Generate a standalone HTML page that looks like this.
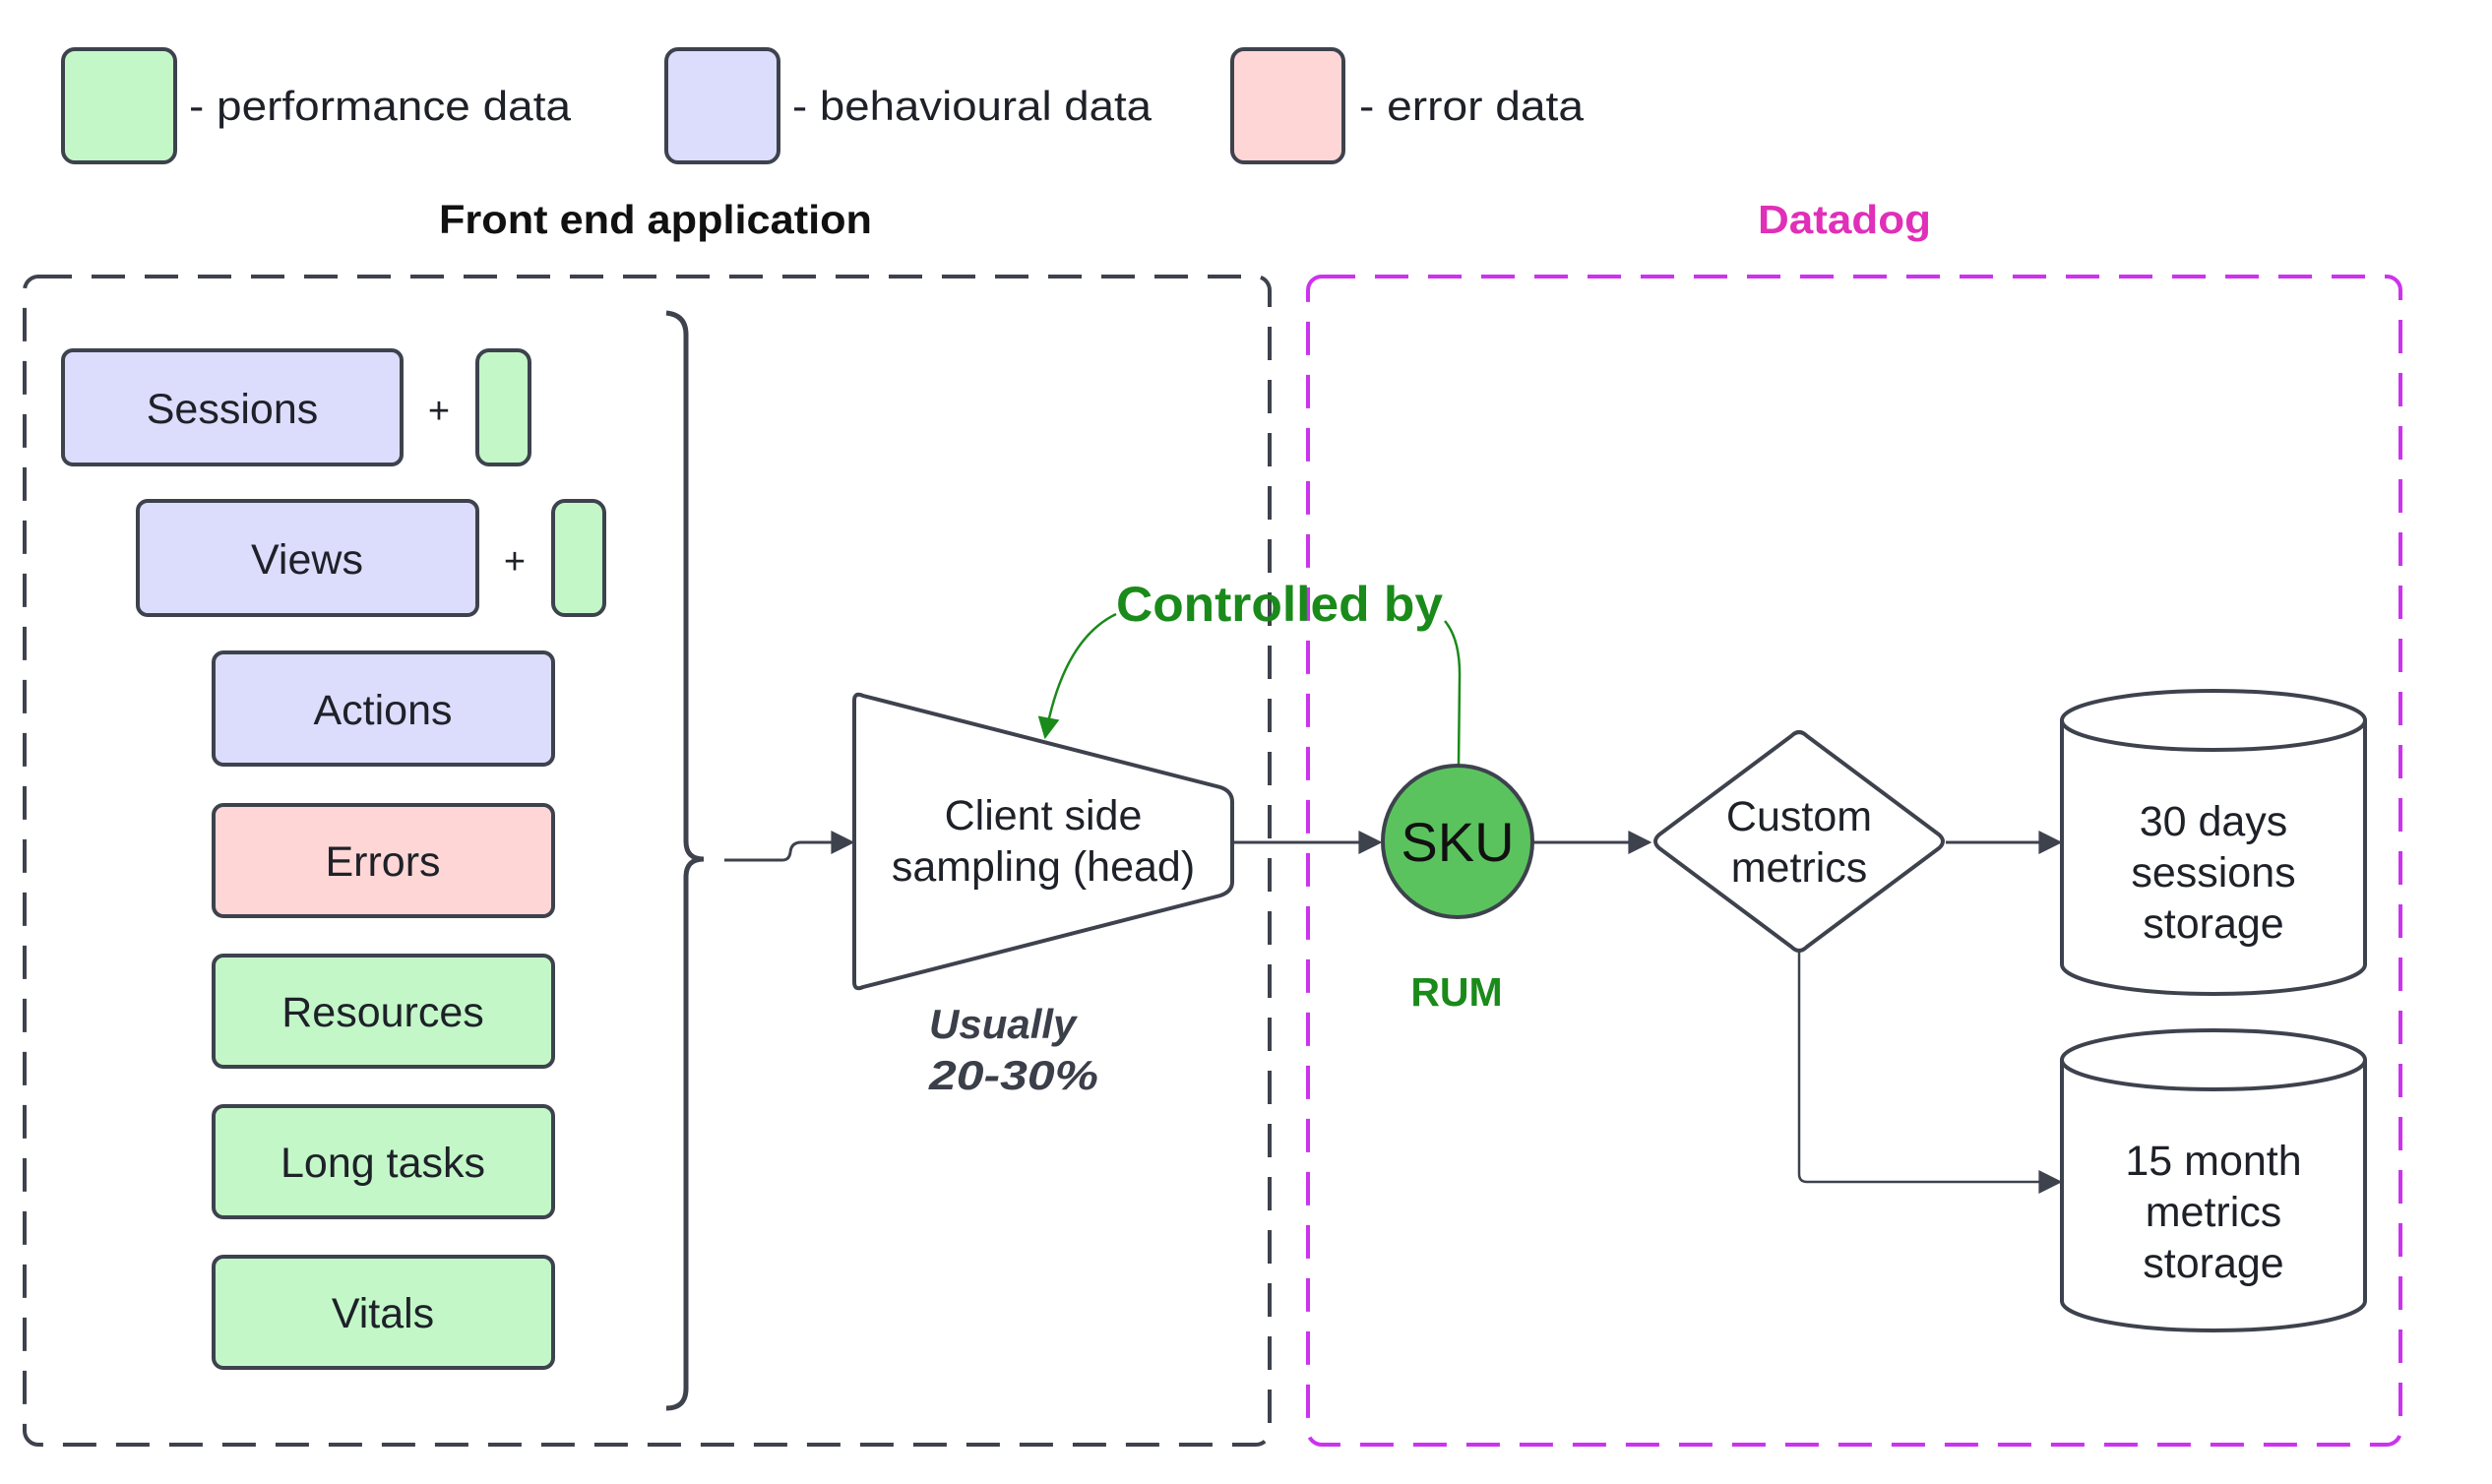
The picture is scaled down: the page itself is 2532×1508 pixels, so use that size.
<!DOCTYPE html>
<html><head><meta charset="utf-8"><style>
html,body{margin:0;padding:0;background:#fff}
svg{display:block}
text{font-family:"Liberation Sans",sans-serif}
</style></head><body>
<svg width="2532" height="1508" viewBox="0 0 2532 1508" xmlns="http://www.w3.org/2000/svg">
<defs>
<marker id="ag" viewBox="0 0 10 10" refX="9" refY="5" markerWidth="24" markerHeight="22" orient="auto" markerUnits="userSpaceOnUse"><path d="M0,0 L10,5 L0,10 z" fill="#1a8a1a"/></marker>
<marker id="ad" viewBox="0 0 10 10" refX="9" refY="5" markerWidth="30" markerHeight="24" orient="auto" markerUnits="userSpaceOnUse"><path d="M0,0 L10,5 L0,10 z" fill="#3d424d"/></marker>
</defs>
<g stroke="#3d424d" stroke-width="4">
<rect x="64" y="50" width="114" height="115" rx="12" fill="#c3f7c8"/>
<rect x="677" y="50" width="114" height="115" rx="12" fill="#dcdcfc"/>
<rect x="1252" y="50" width="113" height="115" rx="12" fill="#ffd6d6"/>
</g>
<g font-size="42" fill="#1e2128">
<text x="192" y="122" textLength="388" lengthAdjust="spacingAndGlyphs">- performance data</text>
<text x="805" y="122" textLength="365" lengthAdjust="spacingAndGlyphs">- behavioural data</text>
<text x="1381" y="122" textLength="228" lengthAdjust="spacingAndGlyphs">- error data</text>
</g>
<text x="666" y="237" font-size="41" font-weight="bold" text-anchor="middle" fill="#111" textLength="440" lengthAdjust="spacingAndGlyphs">Front end application</text>
<text x="1874" y="237" font-size="41" font-weight="bold" text-anchor="middle" fill="#e02fb8" textLength="176" lengthAdjust="spacingAndGlyphs">Datadog</text>
<rect x="25" y="281" width="1265" height="1187" rx="14" fill="none" stroke="#3d424d" stroke-width="4" stroke-dasharray="34,20"/>
<rect x="1329" y="281" width="1110" height="1187" rx="14" fill="none" stroke="#cc33ee" stroke-width="4" stroke-dasharray="34,20"/>
<path d="M677,318 Q697,320 697,340 L697,855 Q697,873 715,873 Q697,873 697,891 L697,1411 Q697,1431 677,1431" fill="none" stroke="#3d424d" stroke-width="5"/>
<g stroke="#3d424d" stroke-width="4">
<rect x="64" y="356" width="344" height="116" rx="10" fill="#dcdcfc"/>
<rect x="485" y="356" width="53" height="116" rx="12" fill="#c3f7c8"/>
<rect x="140" y="509" width="345" height="116" rx="10" fill="#dcdcfc"/>
<rect x="562" y="509" width="52" height="116" rx="12" fill="#c3f7c8"/>
<rect x="217" y="663" width="345" height="114" rx="10" fill="#dcdcfc"/>
<rect x="217" y="818" width="345" height="113" rx="10" fill="#ffd6d6"/>
<rect x="217" y="971" width="345" height="113" rx="10" fill="#c3f7c8"/>
<rect x="217" y="1124" width="345" height="113" rx="10" fill="#c3f7c8"/>
<rect x="217" y="1277" width="345" height="113" rx="10" fill="#c3f7c8"/>
</g>
<g font-size="43" fill="#1e2128" text-anchor="middle">
<text x="236" y="430">Sessions</text>
<text x="446" y="430" font-size="38">+</text>
<text x="312" y="583">Views</text>
<text x="523" y="583" font-size="38">+</text>
<text x="389" y="736">Actions</text>
<text x="389" y="890">Errors</text>
<text x="389" y="1043">Resources</text>
<text x="389" y="1196">Long tasks</text>
<text x="389" y="1349">Vitals</text>
</g>
<path d="M736,874 L795,874 Q802,874 803,866 Q804,856 814,856 L866,856" fill="none" stroke="#3d424d" stroke-width="3" marker-end="url(#ad)"/>
<path d="M868,712 Q868,703 877,707 L1240,800 Q1252,804 1252,815 L1252,896 Q1252,906 1240,910 L877,1003 Q868,1007 868,998 Z" fill="#fff" stroke="#3d424d" stroke-width="4"/>
<g font-size="43" fill="#1e2128" text-anchor="middle">
<text x="1060" y="843">Client side</text>
<text x="1060" y="895">sampling (head)</text>
</g>
<g font-size="42" font-weight="bold" font-style="italic" fill="#3b3f4a">
<text x="944" y="1055">Usually</text>
<text x="944" y="1107" textLength="172" lengthAdjust="spacingAndGlyphs">20-30%</text>
</g>
<line x1="1252" y1="856" x2="1402" y2="856" stroke="#3d424d" stroke-width="3" marker-end="url(#ad)"/>
<path d="M1134,624 Q1080,650 1062,749" fill="none" stroke="#1a8a1a" stroke-width="2.5" marker-end="url(#ag)"/>
<path d="M1468,631 Q1484,650 1483,690 L1482,778" fill="none" stroke="#1a8a1a" stroke-width="2.5"/>
<text x="1134" y="631" font-size="50" font-weight="bold" fill="#1a8a1a" textLength="332" lengthAdjust="spacingAndGlyphs">Controlled by</text>
<ellipse cx="1481" cy="855" rx="76" ry="77" fill="#5bc35e" stroke="#3d424d" stroke-width="4"/>
<text x="1481" y="875" font-size="56" text-anchor="middle" fill="#111">SKU</text>
<text x="1480" y="1022" font-size="41" font-weight="bold" text-anchor="middle" fill="#1a8a1a">RUM</text>
<line x1="1558" y1="856" x2="1676" y2="856" stroke="#3d424d" stroke-width="3" marker-end="url(#ad)"/>
<path d="M1820,748 Q1828,740 1836,748 L1970,848 Q1978,855 1970,862 L1836,962 Q1828,970 1820,962 L1686,862 Q1678,855 1686,848 Z" fill="#fff" stroke="#3d424d" stroke-width="4"/>
<g font-size="43" fill="#1e2128" text-anchor="middle">
<text x="1828" y="844">Custom</text>
<text x="1828" y="896">metrics</text>
</g>
<line x1="1977" y1="856" x2="2093" y2="856" stroke="#3d424d" stroke-width="3" marker-end="url(#ad)"/>
<path d="M1828,968 L1828,1193 Q1828,1201 1836,1201 L2093,1201" fill="none" stroke="#3d424d" stroke-width="2.5" marker-end="url(#ad)"/>
<g stroke="#3d424d" stroke-width="4" fill="#fff">
<path d="M2095,732 L2095,980 A154,30 0 0 0 2403,980 L2403,732"/>
<ellipse cx="2249" cy="732" rx="154" ry="30"/>
<path d="M2095,1077 L2095,1322 A154,30 0 0 0 2403,1322 L2403,1077"/>
<ellipse cx="2249" cy="1077" rx="154" ry="30"/>
</g>
<g font-size="43" fill="#1e2128" text-anchor="middle">
<text x="2249" y="849">30 days</text>
<text x="2249" y="901">sessions</text>
<text x="2249" y="953">storage</text>
<text x="2249" y="1194">15 month</text>
<text x="2249" y="1246">metrics</text>
<text x="2249" y="1298">storage</text>
</g>
</svg>
</body></html>
